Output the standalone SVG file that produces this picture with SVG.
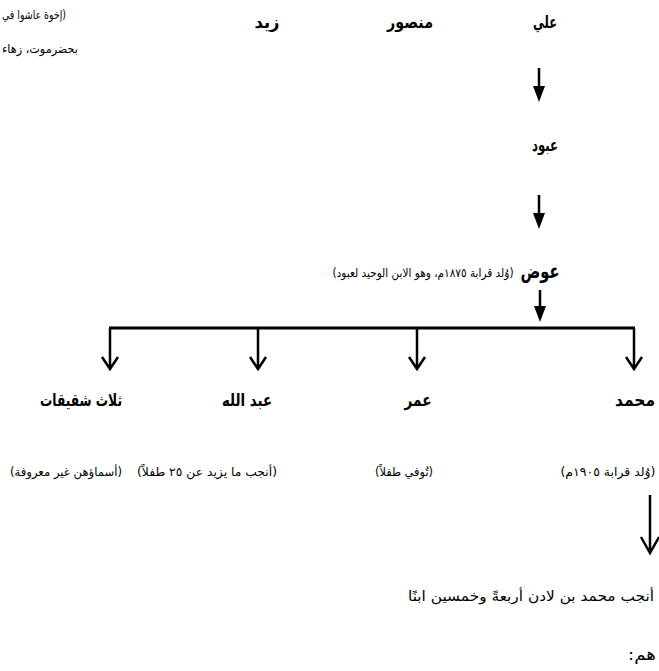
<svg xmlns="http://www.w3.org/2000/svg" width="659" height="671" viewBox="0 0 659 671">
<style>
text{font-family:"DejaVu Sans","Noto Sans",sans-serif;fill:#000;direction:rtl;unicode-bidi:embed;text-anchor:middle}
.name{font-size:17px;font-weight:bold}
.big{font-size:20px;font-weight:bold}
.note{font-size:12px}
.main{font-size:16px}
.ln{stroke:#000;stroke-width:2.5;fill:none}
.bar{stroke:#000;stroke-width:3;fill:none}
</style>
<rect width="659" height="671" fill="#fff"/>
<g id="connectors">
<line class="ln" x1="539" y1="68" x2="539" y2="88"/>
<polygon points="533,86 545,86 539,102"/>
<line class="ln" x1="539" y1="195" x2="539" y2="215"/>
<polygon points="533,213 545,213 539,229"/>
<line class="ln" x1="540" y1="290" x2="540" y2="309"/>
<polygon points="534,306 546,306 540,322"/>
<line class="bar" x1="109" y1="328" x2="635" y2="328"/>
<path class="ln" d="M110 328 V369 M102 357 L110 369 L118 357"/>
<path class="ln" d="M258 328 V369 M250 357 L258 369 L266 357"/>
<path class="ln" d="M417 328 V369 M409 357 L417 369 L425 357"/>
<path class="ln" d="M634 328 V369 M626 357 L634 369 L642 357"/>
<path class="ln" d="M650 495 V553 M641 537 L650 553 L659 537"/>
</g>
<g id="note-top">
<text class="note" x="34" y="19" textLength="64" lengthAdjust="spacingAndGlyphs">(إخوة عاشوا في</text>
<text class="note" x="40" y="53" textLength="76" lengthAdjust="spacingAndGlyphs">بحضرموت، زهاء</text>
</g>
<g id="ali"><text class="name" x="545" y="28" textLength="24" lengthAdjust="spacingAndGlyphs">علي</text></g>
<g id="mansour"><text class="name" x="410" y="28" textLength="46" lengthAdjust="spacingAndGlyphs">منصور</text></g>
<g id="zaid"><text class="name" x="267" y="28" textLength="25" lengthAdjust="spacingAndGlyphs">زيد</text></g>
<g id="abboud"><text class="name" x="545" y="151" textLength="26" lengthAdjust="spacingAndGlyphs">عبود</text></g>
<g id="awad">
<text class="big" x="540" y="278" textLength="39" lengthAdjust="spacingAndGlyphs">عوض</text>
<text class="note" x="423" y="277" textLength="181" lengthAdjust="spacingAndGlyphs">(وُلد قرابة ١٨٧٥م، وهو الابن الوحيد لعبود)</text>
</g>
<g id="sisters">
<text class="name" x="81" y="406" textLength="82" lengthAdjust="spacingAndGlyphs">ثلاث شقيقات</text>
<text class="note" x="66" y="476" textLength="112" lengthAdjust="spacingAndGlyphs">(أسماؤهن غير معروفة)</text>
</g>
<g id="abdullah">
<text class="name" x="247" y="406" textLength="50" lengthAdjust="spacingAndGlyphs">عبد الله</text>
<text class="note" x="207" y="476" textLength="140" lengthAdjust="spacingAndGlyphs">(أنجب ما يزيد عن ٢٥ طفلاً)</text>
</g>
<g id="omar">
<text class="name" x="418" y="406" textLength="27" lengthAdjust="spacingAndGlyphs">عمر</text>
<text class="note" x="404" y="476" textLength="58" lengthAdjust="spacingAndGlyphs">(تُوفي طفلاً)</text>
</g>
<g id="mohammed">
<text class="name" x="635" y="406" textLength="40" lengthAdjust="spacingAndGlyphs">محمد</text>
<text class="note" x="608" y="476" textLength="95" lengthAdjust="spacingAndGlyphs">(وُلد قرابة ١٩٠٥م)</text>
</g>
<g id="sons">
<text class="main" x="531" y="601" style="font-size:14px" textLength="246" lengthAdjust="spacingAndGlyphs">أنجب محمد بن لادن أربعةً وخمسين ابنًا</text>
<text class="main" x="642" y="660" textLength="28" lengthAdjust="spacingAndGlyphs">هم:</text>
</g>
</svg>
